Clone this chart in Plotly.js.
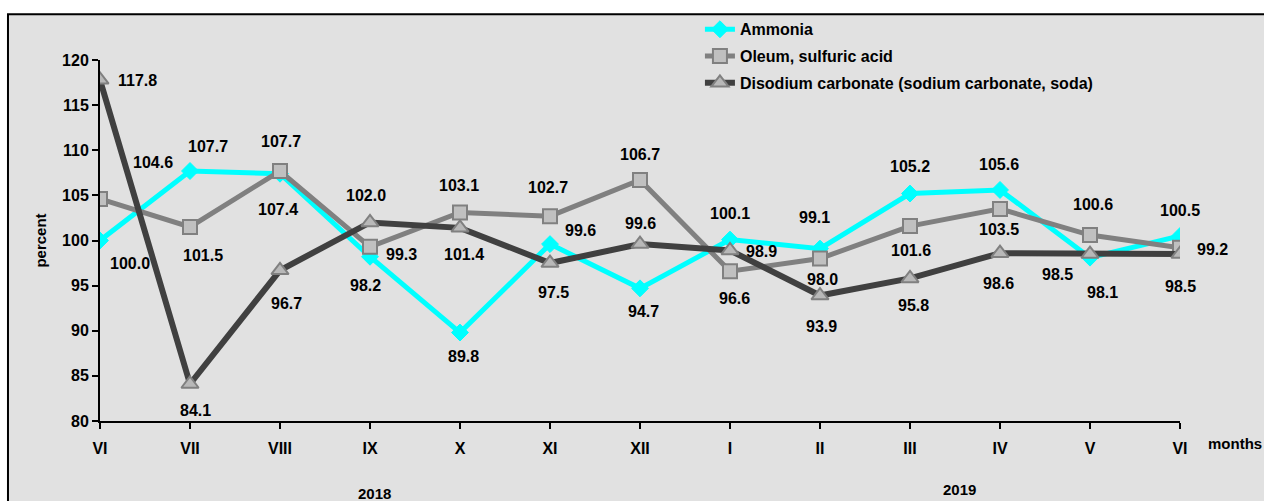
<!DOCTYPE html>
<html>
<head>
<meta charset="utf-8">
<script src="https://cdn.plot.ly/plotly-3.0.1.min.js"></script>
<style>
html,body{margin:0;padding:0;background:#ffffff;}
#chart{width:1264px;height:501px;}
</style>
</head>
<body>
<div id="chart"></div>
<script>
// ---- data ----
const months = ["VI","VII","VIII","IX","X","XI","XII","I","II","III","IV","V","VI"];
const ammonia = [100.0,107.7,107.4,98.2,89.8,99.6,94.7,100.1,99.1,105.2,105.6,98.1,100.5];
const oleum   = [104.6,101.5,107.7,99.3,103.1,102.7,106.7,96.6,98.0,101.6,103.5,100.6,99.2];
const soda    = [117.8,84.1,96.7,102.0,101.4,97.5,99.6,98.9,93.9,95.8,98.6,98.5,98.5];
const seriesNames = ["Ammonia","Oleum, sulfuric acid","Disodium carbonate (sodium carbonate, soda)"];
const years = ["2018","2019"];

// ---- label offsets (pixels: dx right, dy down) ----
const offAmmonia = [[30,23],[18,-25],[-2,36],[-5,29],[3,24],[30,-14],[3,23],[0,-26],[-6,-31],[0,-27],[-1,-25],[12,35],[0,-25]];
const offOleum   = [[53,-36],[13,29],[1,-30],[31,8],[-1,-27],[-2,-29],[0,-26],[4,27],[2,21],[1,24],[-1,21],[3,-31],[32,2]];
const offSoda    = [[37,1],[5,26],[6,33],[-4,-27],[4,27],[3,29],[0,-21],[31,1],[1,31],[3,27],[-2,30],[-33,20],[0,32]];

const xs = months.map((_, i) => i);
const FONT = "Liberation Sans, Arial, sans-serif";

const traces = [
  {x: xs, y: ammonia, name: seriesNames[0], type: "scatter", mode: "lines+markers",
   legendgroup: "a",
   line: {color: "#00ffff", width: 5},
   marker: {symbol: "diamond", size: 13, color: "#00ffff", line: {color: "#00ffff", width: 1}}},
  {x: xs, y: oleum, name: seriesNames[1], type: "scatter", mode: "lines+markers",
   legendgroup: "b",
   line: {color: "#808080", width: 5},
   marker: {symbol: "square", size: 14, color: "#c0c0c0", line: {color: "#808080", width: 2}}},
  {x: xs, y: soda, name: seriesNames[2], type: "scatter", mode: "lines+markers",
   legendgroup: "c",
   line: {color: "#404040", width: 6},
   marker: {symbol: "triangle-up", size: 15, color: "#b8b8b8", line: {color: "#808080", width: 2}}}
];

const annotations = [];
function addLabels(vals, offs) {
  vals.forEach((v, i) => {
    annotations.push({x: xs[i], y: v, xref: "x", yref: "y", text: v.toFixed(1), showarrow: false,
      xshift: offs[i][0], yshift: -offs[i][1],
      font: {family: FONT, size: 16, color: "#000", weight: "bold"}});
  });
}
addLabels(ammonia, offAmmonia);
addLabels(oleum, offOleum);
addLabels(soda, offSoda);

annotations.push({x: 1.0245, y: -0.061, xref: "paper", yref: "paper", text: "months", showarrow: false,
  xanchor: "left", yanchor: "middle", font: {family: FONT, size: 15, color: "#000", weight: "bold"}});
annotations.push({x: 3.05, y: -0.2, xref: "x", yref: "paper", text: years[0], showarrow: false,
  yanchor: "middle", font: {family: FONT, size: 15, color: "#000", weight: "bold"}});
annotations.push({x: 9.55, y: -0.19, xref: "x", yref: "paper", text: years[1], showarrow: false,
  yanchor: "middle", font: {family: FONT, size: 15, color: "#000", weight: "bold"}});

const layout = {
  width: 1264, height: 501,
  margin: {l: 100, r: 84, t: 58, b: 80, pad: 0},
  paper_bgcolor: "#ffffff",
  plot_bgcolor: "rgba(0,0,0,0)",
  showlegend: true,
  legend: {x: 0.5555, y: 1.132, xanchor: "left", yanchor: "top", bgcolor: "rgba(0,0,0,0)",
    traceorder: "grouped", tracegroupgap: 3,
    font: {family: FONT, size: 16, color: "#000", weight: "bold"}},
  xaxis: {range: [0, 12], tickvals: xs, ticktext: months, showgrid: false, zeroline: false,
    showline: true, linecolor: "#000", linewidth: 2, ticks: "outside", ticklen: 6, tickwidth: 2, tickcolor: "#000",
    ticklabelstandoff: 6,
    tickfont: {family: FONT, size: 16, color: "#000", weight: "bold"}, fixedrange: true},
  yaxis: {range: [80, 120], dtick: 5, tick0: 80, showgrid: false, zeroline: false,
    showline: true, linecolor: "#000", linewidth: 2, ticks: "outside", ticklen: 6, tickwidth: 2, tickcolor: "#000",
    tickfont: {family: FONT, size: 16, color: "#000", weight: "bold"},
    title: {text: "percent", standoff: 12, font: {family: FONT, size: 15, color: "#000", weight: "bold"}},
    fixedrange: true},
  shapes: [{type: "rect", xref: "paper", yref: "paper", layer: "below",
    x0: -0.0852, x1: 1.1, y0: -0.3, y1: 1.1267,
    fillcolor: "#e1e1e1", line: {color: "#000", width: 2}}],
  annotations: annotations
};

Plotly.newPlot("chart", traces, layout, {displayModeBar: false, staticPlot: true});
</script>
</body>
</html>
